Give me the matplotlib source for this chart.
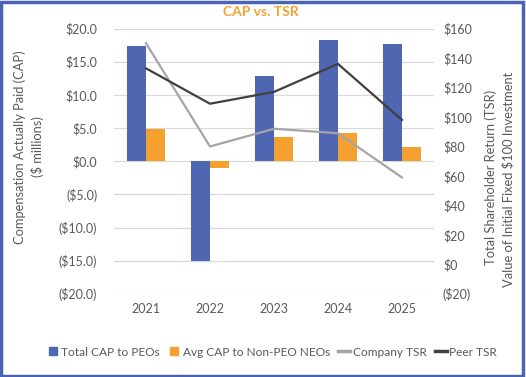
import matplotlib
matplotlib.use("Agg")
import matplotlib.pyplot as plt
import numpy as np
from matplotlib.lines import Line2D
from matplotlib.patches import Rectangle

years = ["2021", "2022", "2023", "2024", "2025"]
cap_peo = [17.3, -15.0, 12.8, 18.3, 17.7]
cap_neo = [4.9, -1.0, 3.6, 4.3, 2.2]
company_tsr = [150, 80, 92, 89, 59]
peer_tsr = [133, 109, 117, 136, 98]

left_ticks = [20, 15, 10, 5, 0, -5, -10, -15, -20]
right_ticks = [160, 140, 120, 100, 80, 60, 40, 20, 0, -20]

def fmt_left(v):
    return f"(${abs(v):.1f})" if v < 0 else f"${v:.1f}"

def fmt_right(v):
    return f"(${abs(v):.0f})" if v < 0 else f"${v:.0f}"

plt.rcParams['font.family'] = ['Lato', 'DejaVu Sans']
TXT = '#595959'
BLUE = '#4F67B3'
ORANGE = '#F4A130'
GRAY = '#A5A5A5'
DARK = '#404040'

fig = plt.figure(figsize=(5.26, 3.77), dpi=100)
ax = fig.add_axes([0.2167, 0.2202, 0.825 - 0.2167, 0.9244 - 0.2202])
x = np.arange(len(years))
w = 0.3
ax.bar(x - w / 2, cap_peo, w, color=BLUE, zorder=2)
ax.bar(x + w / 2, cap_neo, w, color=ORANGE, zorder=2)
ax.set_xlim(-0.5, len(years) - 0.5)
ax.set_ylim(-20, 20)
ax.set_yticks(left_ticks)
ax.set_yticklabels([fmt_left(v) for v in left_ticks])
ax.set_xticks(x)
ax.set_xticklabels(years)
ax.grid(axis='y', color='#D9D9D9', linewidth=0.9, zorder=0)
ax.set_axisbelow(True)
for s in ax.spines.values():
    s.set_visible(False)
ax.tick_params(axis='y', length=0, colors=TXT, labelsize=9, pad=12)
ax.tick_params(axis='x', length=0, colors=TXT, labelsize=9, pad=6.5)

ax2 = ax.twinx()
ax2.plot(x, company_tsr, color=GRAY, linewidth=1.6, zorder=3)
ax2.plot(x, peer_tsr, color=DARK, linewidth=1.6, zorder=3)
ax2.set_ylim(-20, 160)
ax2.set_yticks(right_ticks)
ax2.set_yticklabels([fmt_right(v) for v in right_ticks])
for s in ax2.spines.values():
    s.set_visible(False)
ax2.tick_params(length=0, colors=TXT, labelsize=9, pad=6.5)

# axis titles
fig.text(20 / 526, 1 - 147 / 377, "Compensation Actually Paid (CAP)", rotation=90,
         ha='center', va='center', color=TXT, fontsize=9.3)
fig.text(37 / 526, 1 - 147 / 377, "($ millions)", rotation=90,
         ha='center', va='center', color=TXT, fontsize=9.3)
fig.text(491 / 526, 1 - 177 / 377, "Total Shareholder Return (TSR)", rotation=90,
         ha='center', va='center', color=TXT, fontsize=9.3)
fig.text(508 / 526, 1 - 179 / 377, "Value of Initial Fixed $100 Investment", rotation=90,
         ha='center', va='center', color=TXT, fontsize=9.3)

fig.text(0.496, 0.967, "CAP vs. TSR", ha='center', va='center', color=ORANGE,
         fontsize=10, fontweight='bold')

handles = [
    Line2D([], [], marker='s', color=BLUE, linestyle='none', markersize=6),
    Line2D([], [], marker='s', color=ORANGE, linestyle='none', markersize=6),
    Line2D([], [], color=GRAY, linewidth=2.5),
    Line2D([], [], color=DARK, linewidth=2.5),
]
labels = ["Total CAP to PEOs", "Avg CAP to Non-PEO NEOs", "Company TSR", "Peer TSR"]
fig.legend(handles, labels, loc='center', bbox_to_anchor=(0.517, 0.066), ncol=4,
           frameon=False, fontsize=8.6, handlelength=1.0, handletextpad=0.2,
           columnspacing=0.7, labelcolor=TXT)

fig.patches.append(Rectangle((0.002, 0.003), 0.993, 0.993, transform=fig.transFigure,
                             fill=False, edgecolor='#4A64B4', linewidth=2.5, zorder=10))

fig.savefig("out.png", dpi=100)
